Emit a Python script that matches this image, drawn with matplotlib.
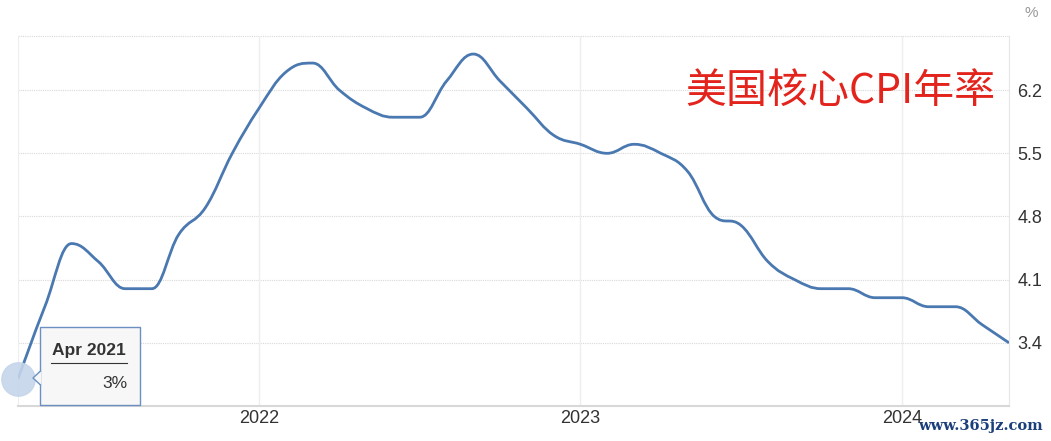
import matplotlib
matplotlib.use("Agg")
import matplotlib.pyplot as plt
from matplotlib.path import Path
from matplotlib.patches import PathPatch, FancyBboxPatch, Polygon

# US core CPI YoY, Apr 2021 .. May 2024
months = ["2021-04", "2021-05", "2021-06", "2021-07", "2021-08", "2021-09",
          "2021-10", "2021-11", "2021-12", "2022-01", "2022-02", "2022-03",
          "2022-04", "2022-05", "2022-06", "2022-07", "2022-08", "2022-09",
          "2022-10", "2022-11", "2022-12", "2023-01", "2023-02", "2023-03",
          "2023-04", "2023-05", "2023-06", "2023-07", "2023-08", "2023-09",
          "2023-10", "2023-11", "2023-12", "2024-01", "2024-02", "2024-03",
          "2024-04", "2024-05"]
core_cpi = [3.0, 3.8, 4.5, 4.3, 4.0, 4.0,
            4.6, 4.9, 5.5, 6.0, 6.4, 6.5,
            6.2, 6.0, 5.9, 5.9, 6.3, 6.6,
            6.3, 6.0, 5.7, 5.6, 5.5, 5.6,
            5.5, 5.3, 4.8, 4.7, 4.3, 4.1,
            4.0, 4.0, 3.9, 3.9, 3.8, 3.8,
            3.6, 3.4]
year_labels = ["2022", "2023", "2024"]
y_ticks = [3.4, 4.1, 4.8, 5.5, 6.2]
title = "美国核心CPI年率"

line_color = "#4a78b0"
label_font = "Liberation Sans"

fig = plt.figure(figsize=(10.51, 4.41), dpi=100)
ax = fig.add_axes([18 / 1051, 1 - 406 / 441, (1009 - 18) / 1051, (406 - 36) / 441])

xs = list(range(len(months)))


# highcharts-like spline through the monthly points
def spline_path(x, y, smoothing=1.5):
    denom = smoothing + 1
    verts = [(x[0], y[0])]
    codes = [Path.MOVETO]
    conts = []
    for i in range(len(x)):
        if i == 0 or i == len(x) - 1:
            conts.append(((x[i], y[i]), (x[i], y[i])))
            continue
        lx = (smoothing * x[i] + x[i - 1]) / denom
        ly = (smoothing * y[i] + y[i - 1]) / denom
        rx = (smoothing * x[i] + x[i + 1]) / denom
        ry = (smoothing * y[i] + y[i + 1]) / denom
        corr = (ry - ly) * (rx - x[i]) / (rx - lx) + y[i] - ry
        ly += corr
        ry += corr
        if ly > max(y[i - 1], y[i]):
            m = max(y[i - 1], y[i]); ry = 2 * y[i] - m; ly = m
        if ly < min(y[i - 1], y[i]):
            m = min(y[i - 1], y[i]); ry = 2 * y[i] - m; ly = m
        if ry > max(y[i + 1], y[i]):
            m = max(y[i + 1], y[i]); ly = 2 * y[i] - m; ry = m
        if ry < min(y[i + 1], y[i]):
            m = min(y[i + 1], y[i]); ly = 2 * y[i] - m; ry = m
        conts.append(((lx, ly), (rx, ry)))
    for i in range(1, len(x)):
        verts += [conts[i - 1][1], conts[i][0], (x[i], y[i])]
        codes += [Path.CURVE4] * 3
    return Path(verts, codes)


ax.add_patch(PathPatch(spline_path(xs, core_cpi), facecolor="none",
                       edgecolor=line_color, lw=2.0, zorder=3))

ax.set_xlim(0, len(months) - 1)
ax.set_ylim(2.7, 6.8)

year_pos = [months.index(y + "-01") for y in year_labels]
ax.set_xticks(year_pos)
ax.set_xticklabels(year_labels, family=label_font)
ax.set_yticks(y_ticks)
ax.set_yticklabels([f"{v:.1f}" for v in y_ticks], family=label_font)
ax.yaxis.tick_right()
ax.tick_params(axis="both", length=0, labelsize=13, colors="#333333")
ax.tick_params(axis="y", pad=6)
ax.tick_params(axis="x", pad=3)

for v in y_ticks + [6.8]:
    ax.axhline(v, color="#d9d9d9", lw=0.8, ls=(0, (1, 1)), zorder=1, clip_on=False)
for p in year_pos:
    ax.axvline(p, color="#eeeeee", lw=1.0, zorder=1)

ax.spines["top"].set_visible(False)
ax.spines["left"].set_color("#eeeeee")
ax.spines["right"].set_color("#e6e6e6")
ax.spines["bottom"].set_color("#d8d8d8")
ax.spines["bottom"].set_linewidth(1.5)

fig.text(1031 / 1051, 1 - 13 / 441, "%", color="#999999", fontsize=11,
         family=label_font, ha="center", va="center")

fig.text(685 / 1051, 1 - 91 / 441, title, color="#e3241d",
         fontsize=29.5, family=["Noto Sans CJK SC", "DejaVu Sans"],
         fontweight="medium", ha="left", va="center")

# hover marker and tooltip
ax.plot(xs[0], core_cpi[0], "o", ms=24, color="#c5d5ea", alpha=0.9,
        zorder=4, clip_on=False)
tip = FancyBboxPatch((40 / 1051, 1 - 405 / 441), 100 / 1051, 78 / 441,
                     boxstyle="square,pad=0", transform=fig.transFigure,
                     facecolor="#f7f7f7", edgecolor="#6a8fc0", lw=1.0, zorder=5)
fig.patches.append(tip)
fig.patches.append(Polygon([(41 / 1051, 1 - 371 / 441), (33 / 1051, 1 - 378 / 441),
                            (41 / 1051, 1 - 385 / 441)], closed=True,
                           transform=fig.transFigure, facecolor="#f7f7f7",
                           edgecolor="none", zorder=6))
fig.add_artist(plt.Line2D([40.5 / 1051, 33 / 1051, 40.5 / 1051],
                          [1 - 371 / 441, 1 - 378 / 441, 1 - 385 / 441],
                          transform=fig.transFigure, color="#6a8fc0", lw=1.0,
                          zorder=7))
fig.text(89 / 1051, 1 - 350 / 441, "Apr 2021", fontsize=12.5, fontweight="bold",
         family=label_font, color="#333333", ha="center", va="center", zorder=8)
fig.add_artist(plt.Line2D([51 / 1051, 127 / 1051], [1 - 363 / 441, 1 - 363 / 441],
                          transform=fig.transFigure, color="#333333", lw=0.8,
                          zorder=8))
fig.text(127 / 1051, 1 - 383 / 441, f"{core_cpi[0]:g}%", fontsize=12.5,
         family=label_font, color="#333333", ha="right", va="center", zorder=8)

fig.text(1043 / 1051, 1 - 426 / 441, "www.365jz.com", fontsize=10.5,
         color="#1b3f7a", family="DejaVu Serif", fontweight="bold",
         ha="right", va="center")

fig.savefig("out.png", dpi=100, facecolor="white")
